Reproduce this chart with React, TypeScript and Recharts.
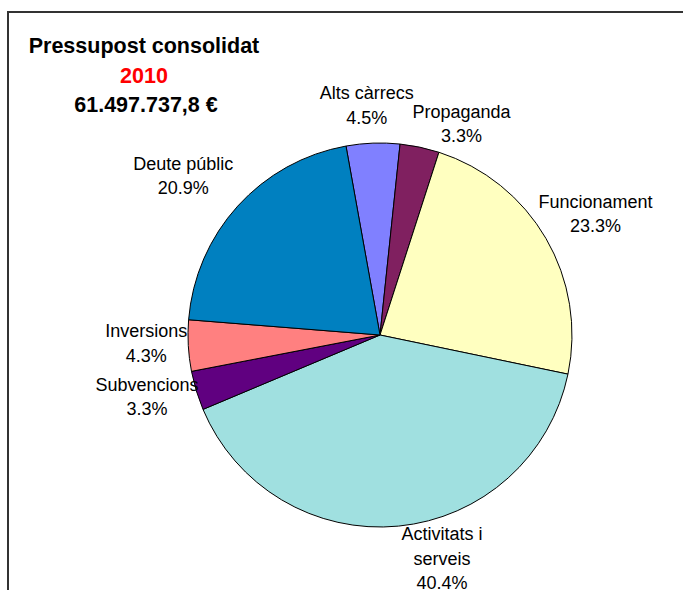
import { PieChart, Pie, Cell } from 'recharts';

const categories = [
    'Alts càrrecs',
    'Propaganda',
    'Funcionament',
    'Activitats i serveis',
    'Subvencions',
    'Inversions',
    'Deute públic'
];

const shares = [4.5, 3.3, 23.3, 40.4, 3.3, 4.3, 20.9];

// how each label wraps, as in the original
const labelLines = [
    ['Alts càrrecs'],
    ['Propaganda'],
    ['Funcionament'],
    ['Activitats i', 'serveis'],
    ['Subvencions'],
    ['Inversions'],
    ['Deute públic']
];

const titleLines = ['Pressupost consolidat', '2010', '61.497.737,8 €'];

const SLICE_COLORS = ['#8080FF', '#802060', '#FFFFC0', '#A0E0E0', '#600080', '#FF8080', '#0080C0'];

// label distance from centre and small angular nudge (deg), Excel-style placement
const LABEL_RADIUS = [230, 226, 247, 232, 241, 234, 253];
const LABEL_SHIFT = [-1.2, 9.2, 0.9, -10, 2, 1.1, -3.2];

const FONT = '"Liberation Sans", Arial, sans-serif';
const RAD = Math.PI / 180;

const data = categories.map((name, i) => ({ name, value: shares[i] }));

function renderLabel(props: any) {
    const { cx, cy, midAngle, index } = props;
    const theta = (90 - midAngle + LABEL_SHIFT[index]) * RAD;
    const r = LABEL_RADIUS[index];
    const x = cx + r * Math.sin(theta);
    const y = cy - r * Math.cos(theta);
    const lines = [...labelLines[index], `${shares[index]}%`];
    const top = y - ((lines.length - 1) * 24.5) / 2 + 6;
    return (
        <text x={x} y={top} textAnchor="middle" fill="#000" fontSize={18} fontFamily={FONT}>
            {lines.map((line, i) => (
                <tspan key={i} x={x} y={top + i * 24.5}>
                    {line}
                </tspan>
            ))}
        </text>
    );
}

export default function App() {
    return (
        <div
            style={{
                position: 'absolute',
                left: 0,
                top: 0,
                width: 683,
                height: 590,
                overflow: 'hidden',
                background: '#fff'
            }}
        >
            <div
                style={{
                    position: 'absolute',
                    left: 7,
                    top: 11,
                    width: 720,
                    height: 620,
                    borderLeft: '2px solid #333',
                    borderTop: '2px solid #333'
                }}
            />
            <svg width={683} height={590} style={{ position: 'absolute', left: 0, top: 0 }}>
                {titleLines.map((line, i) => (
                    <text
                        key={i}
                        x={i === 2 ? 146 : 144}
                        y={53 + i * 29.5}
                        textAnchor="middle"
                        fontFamily={FONT}
                        fontWeight="bold"
                        fontSize={21.5}
                        fill={i === 1 ? '#FF0000' : '#000'}
                    >
                        {line}
                    </text>
                ))}
            </svg>
            <div style={{ position: 'absolute', left: 0, top: 0 }}>
                <PieChart width={683} height={590} margin={{ top: 0, right: 0, bottom: 0, left: 0 }}>
                    <Pie
                        data={data}
                        dataKey="value"
                        cx={380}
                        cy={335}
                        outerRadius={192}
                        startAngle={100.2}
                        endAngle={-259.8}
                        stroke="#000"
                        strokeWidth={1}
                        labelLine={false}
                        label={renderLabel}
                        isAnimationActive={false}
                    >
                        {data.map((entry, index) => (
                            <Cell key={`cell-${index}`} fill={SLICE_COLORS[index]} />
                        ))}
                    </Pie>
                </PieChart>
            </div>
        </div>
    );
}
